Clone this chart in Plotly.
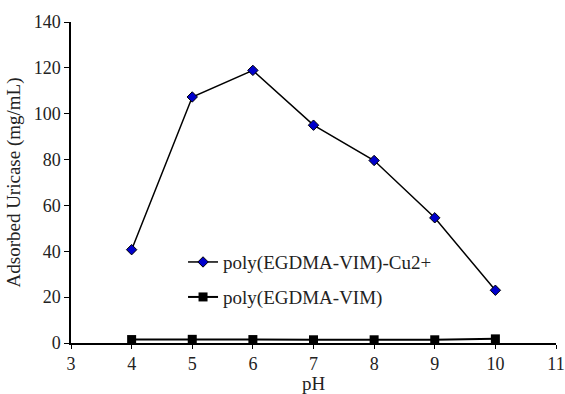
import plotly.graph_objects as go

ph = [4, 5, 6, 7, 8, 9, 10]
cu_values = [40.7, 107.3, 118.9, 95.0, 79.6, 54.6, 23.0]
plain_values = [1.5, 1.6, 1.5, 1.4, 1.4, 1.4, 1.8]
x_ticks = [3, 4, 5, 6, 7, 8, 9, 10, 11]
y_ticks = [0, 20, 40, 60, 80, 100, 120, 140]

font = dict(family="Liberation Serif, Times New Roman, serif", size=18, color="#222")
title_font = dict(family="Liberation Serif, Times New Roman, serif", size=19, color="#222")
leg_font = dict(family="Liberation Serif, Times New Roman, serif", size=19, color="#222")

fig = go.Figure()
fig.add_trace(go.Scatter(
    x=ph, y=cu_values, mode="lines+markers", name="poly(EGDMA-VIM)-Cu2+",
    line=dict(color="black", width=1.5),
    marker=dict(symbol="diamond", size=8, color="#0000cc", line=dict(color="black", width=1)),
    showlegend=True, legend="legend"))
fig.add_trace(go.Scatter(
    x=ph, y=plain_values, mode="lines+markers", name="poly(EGDMA-VIM)",
    line=dict(color="black", width=2),
    marker=dict(symbol="square", size=9, color="black"),
    showlegend=True, legend="legend2"))

leg_common = dict(font=leg_font, bgcolor="rgba(0,0,0,0)", xanchor="left", yanchor="middle",
                  itemwidth=30, visible=True)
fig.update_layout(
    width=565, height=394,
    margin=dict(l=71, r=9, t=22, b=51),
    paper_bgcolor="white", plot_bgcolor="white",
    font=font, showlegend=True,
    legend=dict(x=0.231, y=0.252, **leg_common),
    legend2=dict(x=0.231, y=0.143, **leg_common),
    xaxis=dict(range=[3, 11], tickvals=x_ticks, showgrid=False, zeroline=False,
               showline=True, linecolor="black", linewidth=1.5,
               ticks="outside", ticklen=4, tickcolor="black",
               tickfont=font, automargin=False, ticklabeloverflow="allow",
               title=dict(text="pH", font=title_font, standoff=9)),
    yaxis=dict(range=[0, 140], tickvals=y_ticks, showgrid=False, zeroline=False,
               showline=True, linecolor="black", linewidth=1.5,
               ticks="outside", ticklen=5, tickcolor="black",
               tickfont=font, automargin=False,
               title=dict(text="Adsorbed Uricase (mg/mL)", font=title_font, standoff=8)),
)
fig.write_html(
    "out.html",
    config={"displayModeBar": False},
    post_script="document.body.style.margin='0';document.body.style.overflow='hidden';",
)
